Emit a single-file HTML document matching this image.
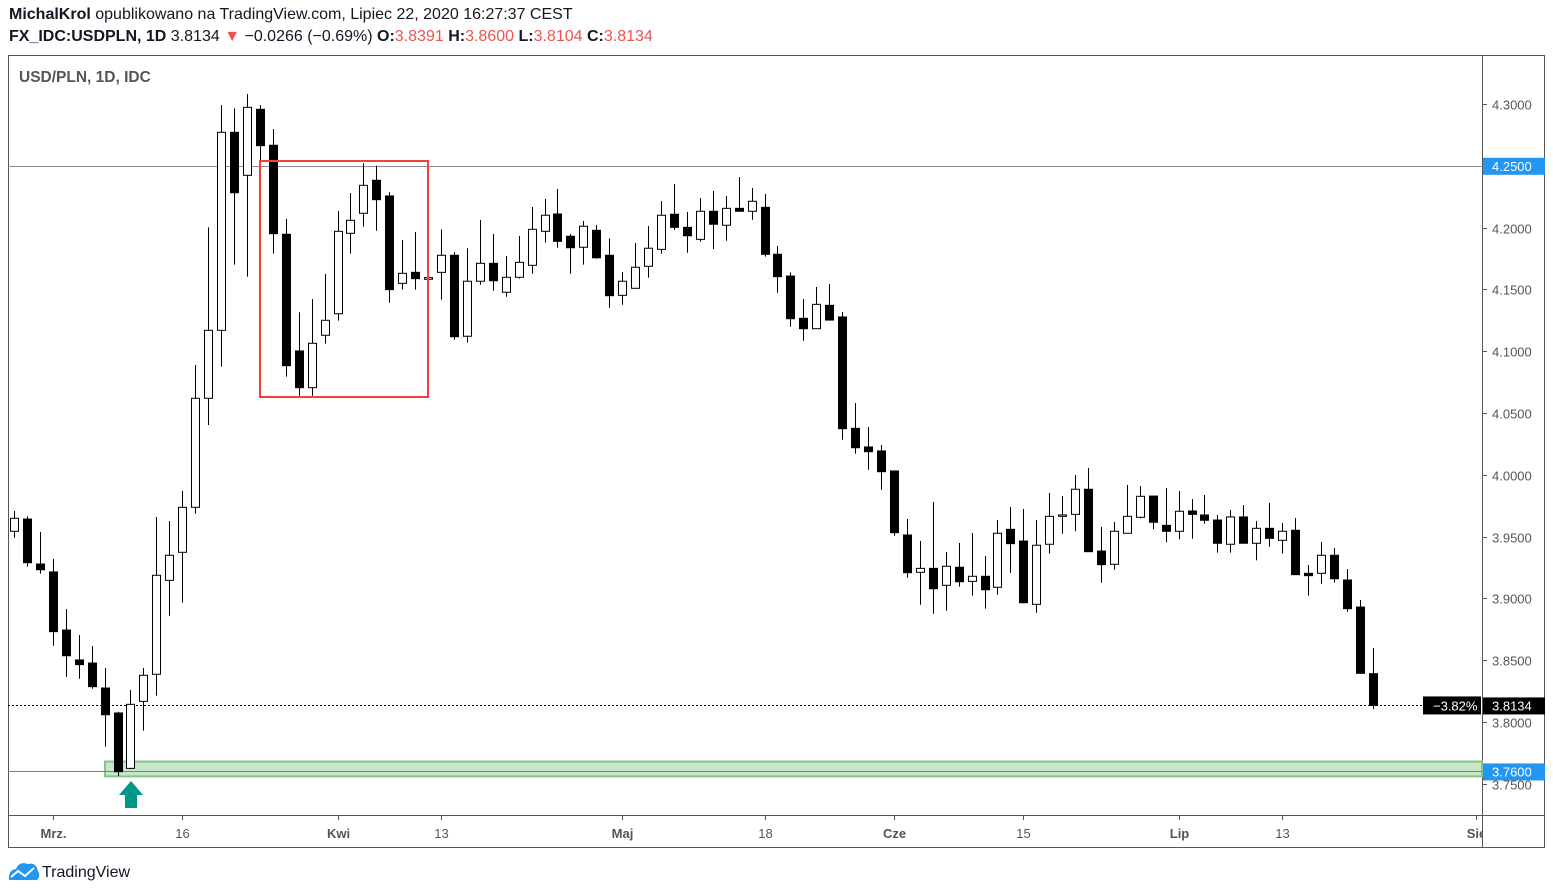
<!DOCTYPE html>
<html><head><meta charset="utf-8">
<style>
body{margin:0;background:#fff;font-family:"Liberation Sans",sans-serif;}
#wrap{position:relative;width:1553px;height:895px;overflow:hidden;}
.hdr{position:absolute;left:9px;font-size:16px;color:#131722;white-space:nowrap;}
.red{color:#ef5350}
</style></head>
<body>
<div id="wrap">
<div class="hdr" style="top:6px"><b>MichalKrol</b> opublikowano na TradingView.com, Lipiec 22, 2020 16:27:37 CEST</div>
<div class="hdr" style="top:28px"><b>FX_IDC:USDPLN, 1D</b> 3.8134 <span class="red">▼</span> −0.0266 (−0.69%) <b>O:</b><span class="red">3.8391</span> <b>H:</b><span class="red">3.8600</span> <b>L:</b><span class="red">3.8104</span> <b>C:</b><span class="red">3.8134</span></div>
<svg id="chart" width="1553" height="895" style="position:absolute;left:0;top:0"></svg>
</div>
<script>
const opens=[3.9543,3.9642,3.9278,3.9214,3.8744,3.8502,3.8477,3.8275,3.8073,3.7625,3.8167,3.8386,3.9146,3.9373,3.9737,4.0619,4.1169,4.2771,4.2423,4.2957,4.2666,4.1946,4.1002,4.0705,4.1129,4.1303,4.1954,4.2116,4.2383,4.2256,4.1549,4.1638,4.1582,4.1638,4.1776,4.1121,4.1566,4.1711,4.1477,4.1598,4.1695,4.1970,4.2110,4.1930,4.1841,4.1978,4.1776,4.1452,4.1509,4.1687,4.1824,4.2108,4.2002,4.1905,4.2132,4.2019,4.2156,4.2132,4.2164,4.1784,4.1608,4.1266,4.1182,4.1371,4.1277,4.0376,4.0225,4.0193,4.0031,3.9513,3.9211,3.9243,3.9106,3.9252,3.9138,3.9179,3.9090,3.9559,3.9464,3.8952,3.9438,3.9664,3.9680,3.9883,3.9383,3.9276,3.9527,3.9656,3.9828,3.9591,3.9543,3.9707,3.9675,3.9634,3.9438,3.9659,3.9446,3.9567,3.9470,3.9551,3.9203,3.9203,3.9349,3.9149,3.8930,3.8391];
const highs=[3.9707,3.9664,3.9537,3.9319,3.8914,3.8704,3.8615,3.8437,3.8083,3.8259,3.8437,3.9659,3.9626,3.9869,4.0888,4.2002,4.2992,4.2965,4.3081,4.2992,4.2798,4.2070,4.1315,4.1422,4.1625,4.2134,4.2280,4.2520,4.2501,4.2286,4.1900,4.1964,4.1600,4.1986,4.1803,4.1833,4.2061,4.1948,4.1770,4.1932,4.2167,4.2231,4.2312,4.1948,4.2053,4.2021,4.1913,4.1641,4.1875,4.2013,4.2215,4.2353,4.2126,4.2239,4.2296,4.2256,4.2409,4.2320,4.2272,4.1851,4.1638,4.1422,4.1519,4.1544,4.1317,4.0581,4.0387,4.0241,4.0035,3.9642,3.9464,3.9780,3.9375,3.9448,3.9529,3.9343,3.9634,3.9739,3.9723,3.9634,3.9853,3.9828,3.9998,4.0055,3.9578,3.9618,3.9917,3.9909,3.9830,3.9893,3.9869,3.9804,3.9837,3.9675,3.9715,3.9756,3.9626,3.9772,3.9610,3.9650,3.9270,3.9456,3.9408,3.9238,3.8987,3.8600];
const lows=[3.9491,3.9256,3.9200,3.8617,3.8366,3.8350,3.8269,3.7800,3.7563,3.7620,3.7930,3.8213,3.8860,3.8965,3.9685,4.0403,4.0875,4.1700,4.1603,4.2547,4.1789,4.0794,4.0640,4.0640,4.1061,4.1247,4.1789,4.2007,4.1975,4.1392,4.1498,4.1498,4.1580,4.1417,4.1093,4.1069,4.1538,4.1489,4.1441,4.1587,4.1627,4.1878,4.1837,4.1627,4.1700,4.1748,4.1352,4.1376,4.1505,4.1595,4.1789,4.1981,4.1797,4.1886,4.1827,4.1894,4.2130,4.2064,4.1765,4.1473,4.1198,4.1085,4.1180,4.1247,4.0284,4.0171,4.0041,3.9879,3.9507,3.9167,3.8949,3.8876,3.8900,3.9095,3.9022,3.8917,3.9030,3.9208,3.8960,3.8884,3.9362,3.9523,3.9543,3.9375,3.9127,3.9232,3.9525,3.9648,3.9559,3.9454,3.9478,3.9483,3.9604,3.9370,3.9370,3.9444,3.9308,3.9418,3.9362,3.9190,3.9022,3.9119,3.9127,3.8892,3.8390,3.8104];
const closes=[3.9648,3.9289,3.9232,3.8731,3.8536,3.8464,3.8286,3.8059,3.7598,3.8143,3.8378,3.9187,3.9349,3.9737,4.0619,4.1169,4.2771,4.2282,4.2973,4.2663,4.1951,4.0883,4.0705,4.1064,4.1250,4.1970,4.2059,4.2342,4.2226,4.1498,4.1630,4.1587,4.1595,4.1776,4.1117,4.1566,4.1711,4.1570,4.1598,4.1719,4.1986,4.2100,4.1889,4.1837,4.2011,4.1756,4.1449,4.1566,4.1679,4.1833,4.2100,4.2002,4.1934,4.2132,4.2027,4.2156,4.2132,4.2213,4.1784,4.1603,4.1263,4.1182,4.1379,4.1252,4.0373,4.0219,4.0187,4.0025,3.9532,3.9208,3.9243,3.9078,3.9260,3.9135,3.9179,3.9070,3.9527,3.9443,3.8965,3.9430,3.9664,3.9675,3.9883,3.9378,3.9273,3.9543,3.9664,3.9826,3.9616,3.9543,3.9705,3.9680,3.9632,3.9446,3.9659,3.9446,3.9567,3.9486,3.9543,3.9192,3.9184,3.9349,3.9159,3.8917,3.8394,3.8134];
const priceTicks=[4.30,4.25,4.20,4.15,4.10,4.05,4.00,3.95,3.90,3.85,3.80,3.75];
const timeLabels=["Mrz.","16","Kwi","13","Maj","18","Cze","15","Lip","13","Sie"];
const timeIdx=[3,13,25,33,47,58,68,78,90,98,113];
const lastPrice=3.8134, resistance=4.25, support=3.76, zoneTop=3.768, zoneBot=3.756;

const NS="http://www.w3.org/2000/svg";
const svg=document.getElementById('chart');
function y(p){return 104+(4.3-p)*1236;}
function x(i){return 14+i*12.94;}
function cy(p){return Math.round(y(p))+0.5;}
function el(tag,attrs,parent){const e=document.createElementNS(NS,tag);for(const k in attrs)e.setAttribute(k,attrs[k]);(parent||svg).appendChild(e);return e;}
function txt(s,attrs,parent){const e=el('text',attrs,parent);e.textContent=s;return e;}

let f=el('rect',{x:8.5,y:55.5,width:1536,height:792,fill:'none',stroke:'#555','stroke-width':1});


let l1=el('line',{x1:1482.5,y1:55,x2:1482.5,y2:848,stroke:'#555'});


let l2=el('line',{x1:8,y1:815.5,x2:1545,y2:815.5,stroke:'#555'});


let t0=txt('USD/PLN, 1D, IDC',{x:19,y:82,'font-size':15.5,'font-weight':'bold',fill:'#555'});



let z=el('rect',{x:105,y:y(zoneTop),width:1377,height:y(zoneBot)-y(zoneTop),fill:'#c8e6c9',stroke:'#81c784','stroke-width':2});


let sl=el('line',{x1:8,x2:1482,y1:cy(support),y2:cy(support),stroke:'#2196f3','stroke-width':1});


let rl=el('line',{x1:8,x2:1482,y1:cy(resistance),y2:cy(resistance),stroke:'#8a8d94','stroke-width':1});


let ll=el('line',{x1:8,x2:1423,y1:cy(lastPrice),y2:cy(lastPrice),stroke:'#000','stroke-width':1,'stroke-dasharray':'2,2'});



for(let i=0;i<opens.length;i++){
  const g=el('g',{});
  
  
  const cx=Math.round(x(i))+0.5;
  el('line',{x1:cx,x2:cx,y1:y(highs[i]),y2:y(lows[i]),stroke:'#000','stroke-width':1},g);
  const up=closes[i]>=opens[i];
  const top=y(Math.max(opens[i],closes[i])), bot=y(Math.min(opens[i],closes[i]));
  el('rect',{x:cx-4,y:top,width:8,height:Math.max(1,bot-top),fill:up?'#fff':'#000',stroke:'#000','stroke-width':1},g);
}

let rb=el('rect',{x:260,y:161,width:168,height:236,fill:'none',stroke:'#f44336','stroke-width':2});



let ar=el('polygon',{points:'131,781 143,795 137,795 137,808 125,808 125,795 119,795',fill:'#009688'});



priceTicks.forEach(p=>{
  const yy=cy(p);
  el('line',{x1:1482,x2:1487,y1:yy,y2:yy,stroke:'#555'});
  const t=txt(p.toFixed(4),{x:1492,y:yy+5,'font-size':13,fill:'#555'});
  
  
});
function badge(p,label,color,name){
  const yy=y(p);
  const r=el('rect',{x:1483,y:yy-8,width:62,height:17,fill:color});
  
  
  txt(label,{x:1492,y:yy+5,'font-size':13,fill:'#fff'});
}
badge(resistance,resistance.toFixed(4),'#2196f3','resistance-price-badge');
badge(support,support.toFixed(4),'#2196f3','support-price-badge');
badge(lastPrice,lastPrice.toFixed(4),'#000','last-price-badge');
let pc=el('rect',{x:1423,y:y(lastPrice)-9,width:58,height:18,fill:'#000'});


txt('−3.82%',{x:1433,y:y(lastPrice)+5,'font-size':13,fill:'#fff'});

timeLabels.forEach((s,k)=>{
  const xx=Math.round(x(timeIdx[k]))+0.5;
  el('line',{x1:xx,x2:xx,y1:815,y2:820,stroke:'#555'});
  const t=txt(s,{x:xx,y:838,'font-size':13,fill:'#555','text-anchor':'middle','font-weight':(s.length>2?'bold':'normal')});
  
  
});
el('rect',{x:1483,y:816,width:61,height:31,fill:'#fff'});

const lg=el('g',{});


el('path',{d:'M9,880 Q8,870 16,869 Q19,861 28,864 Q36,862 38,871 Q41,876 37,880 Z',fill:'#2196f3'},lg);
el('polyline',{points:'11,877 18,871 25,876 34,868',fill:'none',stroke:'#fff','stroke-width':2},lg);
txt('TradingView',{x:42,y:877,'font-size':16,fill:'#131722'},lg);
</script>
</body></html>
